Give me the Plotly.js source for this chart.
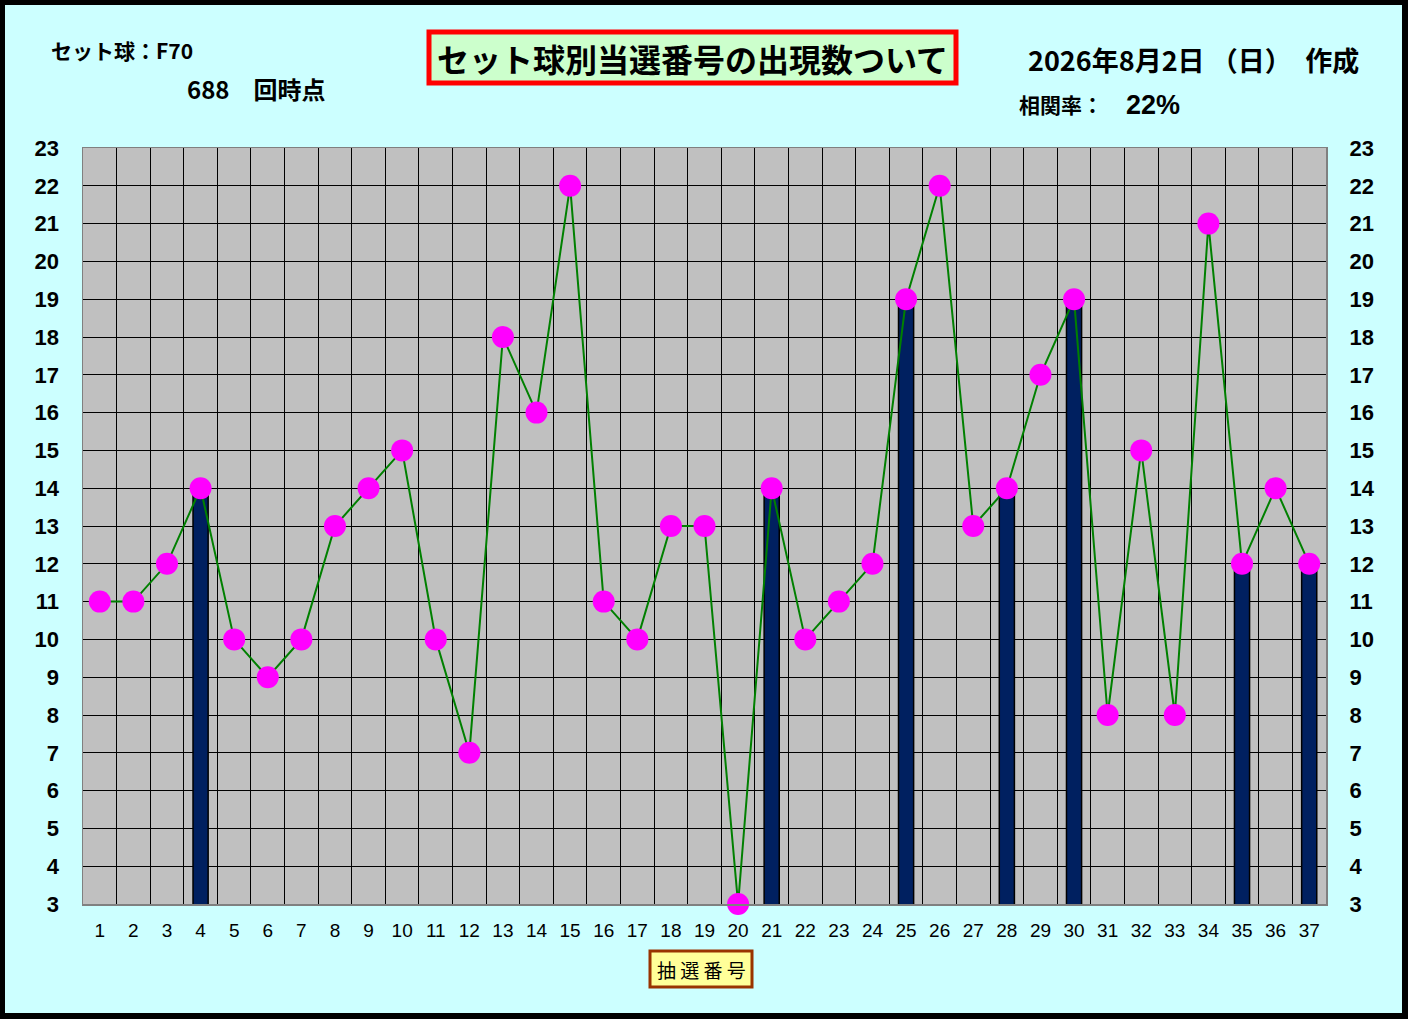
<!DOCTYPE html>
<html>
<head>
<meta charset="utf-8">
<script src="https://cdn.plot.ly/plotly-3.0.1.min.js"></script>
<style>
html,body{margin:0;padding:0;background:#000;}
#wrap{position:absolute;left:0;top:0;width:1408px;height:1019px;background:#000;}
#chart{position:absolute;left:5px;top:5px;width:1397px;height:1008px;}
</style>
</head>
<body>
<div id="wrap"><div id="chart"></div></div>
<script>
// ---- data ----
const numbers = ['1','2','3','4','5','6','7','8','9','10','11','12','13','14','15','16','17','18','19','20','21','22','23','24','25','26','27','28','29','30','31','32','33','34','35','36','37'];
const counts = [11,11,12,14,10,9,10,13,14,15,10,7,18,16,22,11,10,13,13,3,14,10,11,12,19,22,13,14,17,19,8,15,8,21,12,14,12];
const drawnCounts = [null,null,null,14,null,null,null,null,null,null,null,null,null,null,null,null,null,null,null,null,14,null,null,null,19,null,null,14,null,19,null,null,null,null,12,null,12];
const yTicks = [3,4,5,6,7,8,9,10,11,12,13,14,15,16,17,18,19,20,21,22,23];

const titleText = 'セット球別当選番号の出現数ついて';
const setBallText = 'セット球：F70';
const roundText = '688　回時点';
const dateText = '2026年8月2日 （日）　作成';
const corrLabel = '相関率：';
const corrValue = '22%';
const xTitle = '抽 選 番 号';

// ---- layout helpers (original-image pixel -> paper) ----
const PL = 83, PR = 1326, PT = 148, PB = 904;
const px = x => (x - PL) / (PR - PL);
const py = y => (PB - y) / (PB - PT);

const FONT = 'Liberation Sans, Arial, Noto Sans CJK JP, sans-serif';
const JFONT = 'Noto Sans CJK JP, Liberation Sans, sans-serif';

const traces = [
  {
    type: 'bar', x: numbers, y: drawnCounts, yaxis: 'y',
    marker: {color: '#002060', line: {color: '#000000', width: 1.5}},
    hoverinfo: 'skip', showlegend: false
  },
  {
    type: 'scatter', mode: 'lines+markers', x: numbers, y: counts, yaxis: 'y2',
    line: {color: '#008000', width: 2},
    marker: {color: '#FF00FF', size: 22, line: {width: 0}},
    cliponaxis: false,
    showlegend: false
  }
];

const yaxisCommon = {
  range: [3, 23], tickvals: yTicks, ticktext: yTicks.map(String),
  ticks: 'outside', ticklen: 18, tickcolor: 'rgba(0,0,0,0)',
  tickfont: {family: FONT, size: 22, color: '#000', weight: 'bold'},
  zeroline: false, fixedrange: true, autorange: false
};

const layout = {
  width: 1397, height: 1008,
  margin: {l: 78, r: 76, t: 143, b: 109},
  paper_bgcolor: '#CCFFFF',
  plot_bgcolor: '#C0C0C0',
  bargap: 0.55,
  xaxis: {
    type: 'category', tickson: 'boundaries', range: [-0.5, 36.5], autorange: false,
    showgrid: true, gridcolor: '#000000', gridwidth: 1,
    ticks: '', ticklabelstandoff: 9,
    tickfont: {family: FONT, size: 19, color: '#000'},
    showline: true, linecolor: '#808080', linewidth: 1.5, mirror: true,
    zeroline: false
  },
  yaxis: Object.assign({}, yaxisCommon, {
    showgrid: true, gridcolor: '#000000', gridwidth: 1,
    showline: true, linecolor: '#808080', linewidth: 1.5, mirror: true
  }),
  yaxis2: Object.assign({}, yaxisCommon, {
    overlaying: 'y', side: 'right', showgrid: false, showline: false
  }),
  shapes: [
    {type: 'rect', xref: 'paper', yref: 'paper',
     x0: px(429), x1: px(956), y0: py(83), y1: py(32),
     fillcolor: '#CCFFCC', line: {color: '#FF0000', width: 5}, layer: 'above'},
    {type: 'rect', xref: 'paper', yref: 'paper',
     x0: px(650), x1: px(752), y0: py(987), y1: py(951),
     fillcolor: '#FFFF99', line: {color: '#993300', width: 3}, layer: 'above'}
  ],
  annotations: [
    {text: titleText, xref: 'paper', yref: 'paper', x: px(692), y: py(58),
     xanchor: 'center', yanchor: 'middle', showarrow: false,
     font: {family: JFONT, size: 32, color: '#000', weight: 'bold'}},
    {text: xTitle, xref: 'paper', yref: 'paper', x: px(701), y: py(969),
     xanchor: 'center', yanchor: 'middle', showarrow: false,
     font: {family: JFONT, size: 19, color: '#000'}},
    {text: setBallText, xref: 'paper', yref: 'paper', x: px(49), y: py(50),
     xanchor: 'left', yanchor: 'middle', showarrow: false,
     font: {family: JFONT, size: 21, color: '#000', weight: 'bold'}},
    {text: roundText, xref: 'paper', yref: 'paper', x: px(185), y: py(89),
     xanchor: 'left', yanchor: 'middle', showarrow: false,
     font: {family: JFONT, size: 24, color: '#000', weight: 'bold'}},
    {text: dateText, xref: 'paper', yref: 'paper', x: px(1026), y: py(60),
     xanchor: 'left', yanchor: 'middle', showarrow: false,
     font: {family: JFONT, size: 27, color: '#000', weight: 'bold'}},
    {text: corrLabel, xref: 'paper', yref: 'paper', x: px(1017), y: py(104),
     xanchor: 'left', yanchor: 'middle', showarrow: false,
     font: {family: JFONT, size: 21, color: '#000', weight: 'bold'}},
    {text: corrValue, xref: 'paper', yref: 'paper', x: px(1124), y: py(105),
     xanchor: 'left', yanchor: 'middle', showarrow: false,
     font: {family: FONT, size: 27, color: '#000', weight: 'bold'}}
  ]
};

Plotly.newPlot('chart', traces, layout, {displayModeBar: false, staticPlot: true});
</script>
</body>
</html>
